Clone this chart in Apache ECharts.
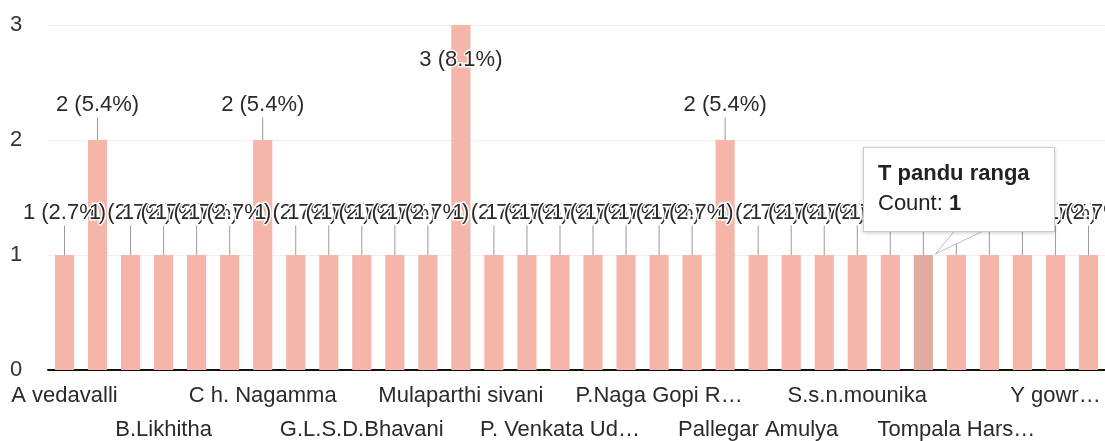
<!DOCTYPE html>
<html>
<head>
<meta charset="utf-8">
<script src="https://cdn.jsdelivr.net/npm/echarts@6/dist/echarts.min.js"></script>
<style>
html,body{margin:0;padding:0;background:#fff;}
#chart{width:1105px;height:441px;}
</style>
</head>
<body>
<div id="chart"></div>
<script>
// Categories (only every third name is legible in the reference; others are placeholders)
const categories = [
  'A vedavalli', '(name 2)', '(name 3)', 'B.Likhitha', '(name 5)', '(name 6)',
  'C h. Nagamma', '(name 8)', '(name 9)', 'G.L.S.D.Bhavani', '(name 11)', '(name 12)',
  'Mulaparthi sivani', '(name 14)', '(name 15)', 'P. Venkata Ud…', '(name 17)', '(name 18)',
  'P.Naga Gopi R…', '(name 20)', '(name 21)', 'Pallegar Amulya', '(name 23)', '(name 24)',
  'S.s.n.mounika', '(name 26)', 'T pandu ranga', 'Tompala Hars…', '(name 29)', '(name 30)',
  'Y gowr…', '(name 32)'
];
const counts = [
  1, 2, 1, 1, 1, 1,
  2, 1, 1, 1, 1, 1,
  3, 1, 1, 1, 1, 1,
  1, 1, 2, 1, 1, 1,
  1, 1, 1, 1, 1, 1,
  1, 1
];
const yTicks = [0, 1, 2, 3];
const tooltipIndex = 26;

const total = counts.reduce((a, b) => a + b, 0);
const yMax = yTicks[yTicks.length - 1];
const FONT = '"Liberation Sans", Arial, sans-serif';

const labelBase = {
  fontSize: 22,
  color: '#2a2a2a',
  fontFamily: FONT
};

const chart = echarts.init(document.getElementById('chart'));
chart.setOption({
  animation: false,
  textStyle: { fontFamily: FONT },
  grid: { left: 48, right: 0, top: 25, bottom: 71, containLabel: false, outerBoundsMode: 'none' },
  tooltip: {
    trigger: 'item',
    triggerOn: 'none',
    alwaysShowContent: true,
    transitionDuration: 0,
    backgroundColor: '#ffffff',
    borderColor: '#cccccc',
    borderWidth: 1,
    padding: [10, 14],
    extraCssText: 'border-radius:0;box-shadow:0 1px 4px rgba(0,0,0,0.2);width:162px;height:63px;',
    textStyle: { fontSize: 22, color: '#222', fontFamily: FONT },
    formatter: p => '<div style="line-height:30px;font-family:' + FONT.replace(/"/g, "'") +
      ';font-size:22px;color:#222"><b>' + p.name + '</b><br/>Count: <b>' + p.value + '</b></div>',
    position: function () {
      const pt = chart.convertToPixel({ xAxisIndex: 0, yAxisIndex: 0 }, [tooltipIndex, counts[tooltipIndex]]);
      return [pt[0] - 60, pt[1] - 108];
    }
  },
  xAxis: [{
    type: 'category',
    data: categories,
    position: 'bottom',
    axisLine: { show: true, lineStyle: { color: '#111', width: 2 } },
    axisTick: { show: false },
    axisLabel: Object.assign({}, labelBase, {
      margin: 15,
      interval: (index) => index % 6 === 0
    })
  }, {
    type: 'category',
    data: categories,
    position: 'bottom',
    axisLine: { show: false },
    axisTick: { show: false },
    splitLine: { show: false },
    axisLabel: Object.assign({}, labelBase, {
      margin: 49,
      interval: (index) => index % 6 === 3
    })
  }],
  yAxis: {
    type: 'value',
    min: 0,
    max: yMax,
    interval: 1,
    axisLine: { show: false },
    axisTick: { show: false },
    splitLine: { lineStyle: { color: '#efefef', width: 1 } },
    axisLabel: {
      align: 'left',
      margin: 38,
      fontSize: 22,
      color: '#333',
      fontFamily: FONT,
      formatter: v => (yTicks.indexOf(v) >= 0 ? String(v) : '')
    }
  },
  series: [{
    type: 'bar',
    xAxisIndex: 0,
    data: counts,
    barCategoryGap: '42%',
    itemStyle: { color: '#f5b5a9' },
    emphasis: { focus: 'none', itemStyle: { color: '#e2aba2' }, label: { show: true } },
    label: {
      show: true,
      position: 'top',
      fontSize: 22,
      color: '#2a2a2a',
      fontFamily: FONT,
      textBorderColor: '#ffffff',
      textBorderWidth: 3,
      formatter: p => p.value + ' (' + (p.value / total * 100).toFixed(1) + '%)'
    },
    labelLine: { show: true, lineStyle: { color: '#9a9a9a', width: 1 } },
    labelLayout: function (params) {
      const r = params.rect;
      const top = Math.min(r.y, r.y + r.height);
      const cx = r.x + r.width / 2;
      const v = counts[params.dataIndex];
      if (v >= yMax) {
        const ly = top + 35;
        return { x: cx, y: ly, align: 'center', verticalAlign: 'middle',
          labelLinePoints: [[cx, top], [cx, ly - 12], [cx, ly - 12]] };
      }
      const ly = top - (v === 1 ? 42 : 35);
      return { x: cx, y: ly, align: 'center', verticalAlign: 'middle',
        labelLinePoints: [[cx, top], [cx, ly + 13], [cx, ly + 13]] };
    }
  }]
});

// tooltip tail
const tp = chart.convertToPixel({ xAxisIndex: 0, yAxisIndex: 0 }, [tooltipIndex, counts[tooltipIndex]]);
chart.setOption({
  graphic: [{
    type: 'polygon',
    z: 100,
    shape: { points: [[tp[0] + 12, tp[1] - 1], [tp[0] + 32, tp[1] - 25], [tp[0] + 62, tp[1] - 25]] },
    style: { fill: '#ffffff', stroke: '#bdbdbd', lineWidth: 1 }
  }]
});

chart.dispatchAction({ type: 'highlight', seriesIndex: 0, dataIndex: tooltipIndex });
chart.dispatchAction({ type: 'showTip', seriesIndex: 0, dataIndex: tooltipIndex });
</script>
</body>
</html>
